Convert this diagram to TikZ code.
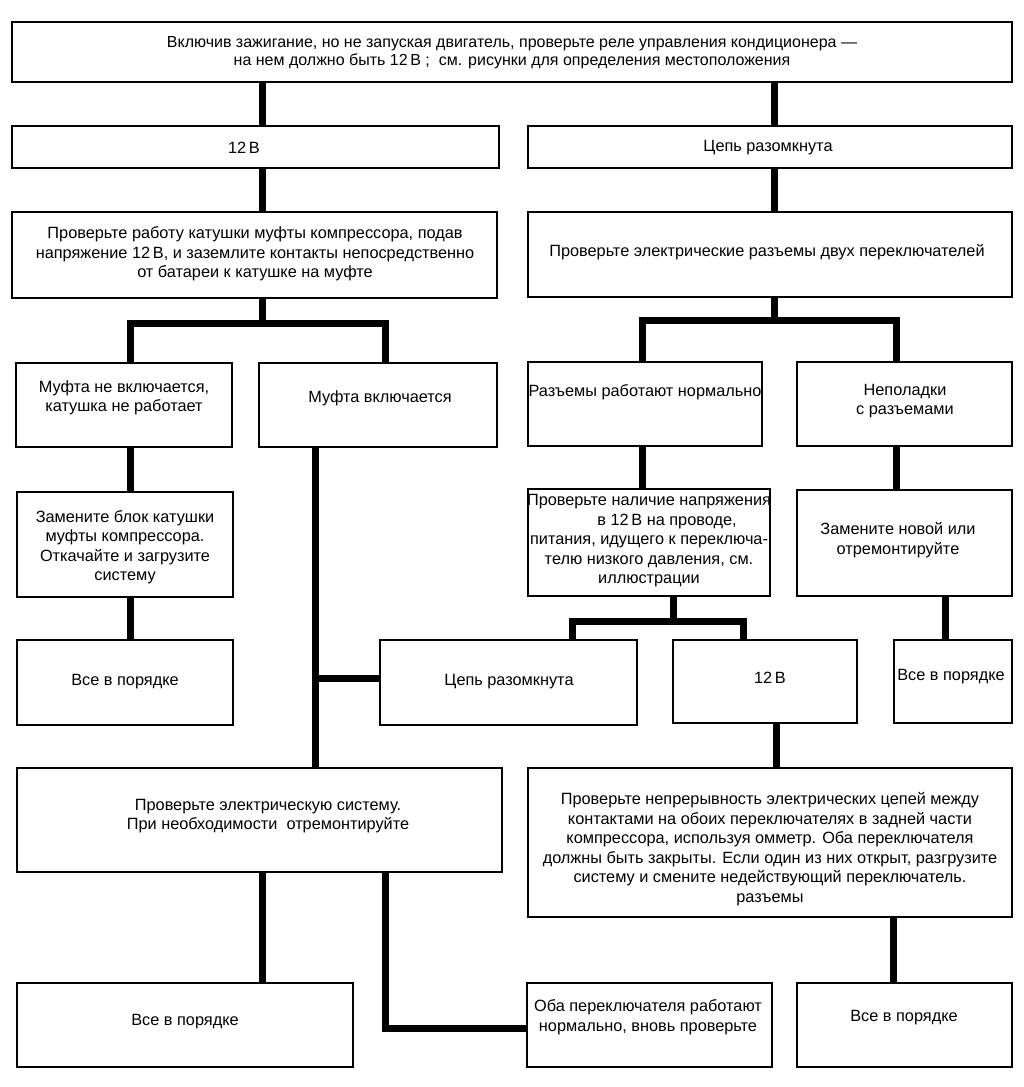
\documentclass[tikz,border=0pt]{standalone}
\usepackage{fontspec}
\setmainfont{Liberation Sans}
\usetikzlibrary{fit}
\tikzset{
  box/.style={draw, line width=1.6pt, inner sep=0pt},
  txt/.style={align=center, inner sep=0pt, font=\fontsize{16.3}{19.5}\selectfont},
  toptxt/.style={align=center, inner sep=0pt, font=\fontsize{16}{18}\selectfont},
  conn/.style={line width=7pt, line join=miter, line cap=butt}
}
\begin{document}
\begin{tikzpicture}[x=1pt,y=-1pt]
\useasboundingbox (0,0) rectangle (1024,1087);
% boxes
\node[box, fit={(12,22) (1012,82)}] (top) {};
\node[box, fit={(12,126) (499,168)}] (v12a) {};
\node[box, fit={(528,126) (1012,168)}] (open1) {};
\node[box, fit={(12,212) (497,298)}] (coilchk) {};
\node[box, fit={(528,212) (1012,297)}] (conn1) {};
\node[box, fit={(16,363) (232,447)}] (noclutch) {};
\node[box, fit={(259,363) (497,447)}] (clutchon) {};
\node[box, fit={(528,362) (762,446)}] (connok) {};
\node[box, fit={(797,362) (1012,446)}] (connbad) {};
\node[box, fit={(17,492) (233,597)}] (replcoil) {};
\node[box, fit={(17,640) (233,725)}] (ok1) {};
\node[box, fit={(380,640) (637,725)}] (open2) {};
\node[box, fit={(528,489) (770,596)}] (lowchk) {};
\node[box, fit={(673,640) (857,723)}] (v12b) {};
\node[box, fit={(797,490) (1012,596)}] (replace) {};
\node[box, fit={(894,640) (1012,723)}] (ok2) {};
\node[box, fit={(17,768) (502,872)}] (elsys) {};
\node[box, fit={(528,768) (1012,917)}] (cont) {};
\node[box, fit={(17,983) (353,1067)}] (ok3) {};
\node[box, fit={(527,983) (772,1067)}] (both) {};
\node[box, fit={(797,983) (1012,1067)}] (ok4) {};
% texts
\node[toptxt] (top-t) at (512,53) {Включив зажигание, но не запуская двигатель, проверьте реле управления кондиционера —\\на нем должно быть 12\,В ;\ \ см. рисунки для определения местоположения};
\node[txt] (v12a-t) at (244,148) {12\,В};
\node[txt] (open1-t) at (768,148) {Цепь разомкнута};
\node[txt] (coilchk-t) at (255,254) {Проверьте работу катушки муфты компрессора, подав\\напряжение 12\,В, и заземлите контакты непосредственно\\от батареи к катушке на муфте};
\node[txt] (conn1-t) at (767,252) {Проверьте электрические разъемы двух переключателей};
\node[txt] (noclutch-t) at (124,398) {Муфта не включается,\\катушка не работает};
\node[txt] (clutchon-t) at (380,398) {Муфта включается};
\node[txt] (connok-t) at (645,392) {Разъемы работают нормально};
\node[txt] (connbad-t) at (905,401) {Неполадки\\с разъемами};
\node[txt] (replcoil-t) at (125,547) {Замените блок катушки\\муфты компрессора.\\Откачайте и загрузите\\систему};
\node[txt] (ok1-t) at (125,682) {Все в порядке};
\node[txt] (open2-t) at (509,682) {Цепь разомкнута};
\node[txt] (lowchk-t) at (649,541) {Проверьте наличие напряжения\\\hspace*{36pt}в 12\,В на проводе,\\питания, идущего к переключа-\\телю низкого давления, см.\\иллюстрации};
\node[txt] (v12b-t) at (770,678) {12\,В};
\node[txt] (replace-t) at (898,540) {Замените новой или\\отремонтируйте};
\node[txt] (ok2-t) at (951,677) {Все в порядке};
\node[txt] (elsys-t) at (268,816) {Проверьте электрическую систему.\\При необходимости\ \ отремонтируйте};
\node[txt] (cont-t) at (770,849) {Проверьте непрерывность электрических цепей между\\контактами на обоих переключателях в задней части\\компрессора, используя омметр. Оба переключателя\\должны быть закрыты. Если один из них открыт, разгрузите\\систему и смените недействующий переключатель.\\разъемы};
\node[txt] (ok3-t) at (185,1022) {Все в порядке};
\node[txt] (both-t) at (648,1017) {Оба переключателя работают\\нормально, вновь проверьте};
\node[txt] (ok4-t) at (904,1018) {Все в порядке};
% connector guide coordinates
\coordinate (xa) at (262,0);
\coordinate (xb) at (774,0);
\coordinate (xc) at (130,0);
\coordinate (xd) at (385,0);
\coordinate (xe) at (642,0);
\coordinate (xf) at (896,0);
\coordinate (xg) at (315,0);
\coordinate (xh) at (945,0);
\coordinate (xi) at (572,0);
\coordinate (xj) at (743,0);
\coordinate (xk) at (776,0);
\coordinate (xl) at (893,0);
\coordinate (yh) at (0,678);
\coordinate (yb) at (0,1028);
\coordinate (j1) at (262,323);
\coordinate (j2) at (774,320);
\coordinate (j3) at (673,621);
% connectors
\draw[conn] (top.south -| xa) -- (v12a.north -| xa);
\draw[conn] (top.south -| xb) -- (open1.north -| xb);
\draw[conn] (v12a.south -| xa) -- (coilchk.north -| xa);
\draw[conn] (open1.south -| xb) -- (conn1.north -| xb);
\draw[conn] (coilchk.south -| xa) -- (j1);
\draw[conn] (noclutch.north -| xc) |- (j1) -| (clutchon.north -| xd);
\draw[conn] (conn1.south -| xb) -- (j2);
\draw[conn] (connok.north -| xe) |- (j2) -| (connbad.north -| xf);
\draw[conn] (noclutch.south -| xc) -- (replcoil.north -| xc);
\draw[conn] (replcoil.south -| xc) -- (ok1.north -| xc);
\draw[conn] (clutchon.south -| xg) -- (elsys.north -| xg);
\draw[conn] (open2.west |- yh) -- (xg |- yh);
\draw[conn] (connok.south -| xe) -- (lowchk.north -| xe);
\draw[conn] (connbad.south -| xf) -- (replace.north -| xf);
\draw[conn] (replace.south -| xh) -- (ok2.north -| xh);
\draw[conn] (lowchk.south -| j3) -- (j3);
\draw[conn] (open2.north -| xi) |- (j3) -| (v12b.north -| xj);
\draw[conn] (v12b.south -| xk) -- (cont.north -| xk);
\draw[conn] (elsys.south -| xa) -- (ok3.north -| xa);
\draw[conn] (elsys.south -| xd) |- (both.west |- yb);
\draw[conn] (cont.south -| xl) -- (ok4.north -| xl);
\end{tikzpicture}
\end{document}
